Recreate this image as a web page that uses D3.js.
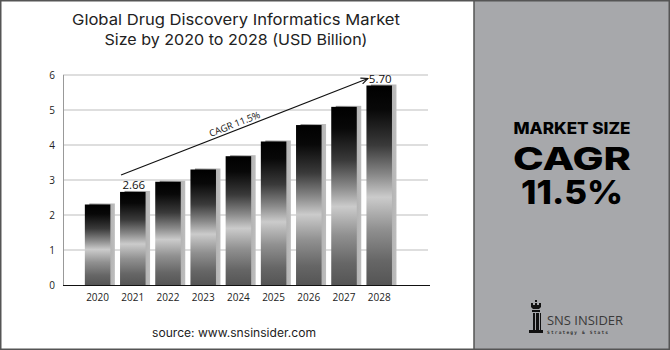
<!DOCTYPE html>
<html>
<head>
<meta charset="utf-8">
<script src="https://cdn.jsdelivr.net/npm/d3@7/dist/d3.min.js"></script>
<style>
    body { margin: 0; background: #fff; }
    text.tick-label { font-family: "Open Sans", sans-serif; font-size: 10px; fill: #222; }
</style>
</head>
<body>
<div id="chart"></div>
<script>
var years = ["2020", "2021", "2022", "2023", "2024", "2025", "2026", "2027", "2028"];
var marketSize = [2.30, 2.66, 2.95, 3.30, 3.68, 4.10, 4.57, 5.09, 5.70];
var yTicks = [0, 1, 2, 3, 4, 5, 6];
var labelled = { "2021": "2.66", "2028": "5.70" };

var width = 670, height = 350;

var svg = d3.select("#chart").append("svg")
    .attr("width", width)
    .attr("height", height);

var defs = svg.append("defs");

var barGrad = defs.append("linearGradient")
    .attr("id", "barGrad")
    .attr("x1", 0).attr("y1", 0).attr("x2", 0).attr("y2", 1);
[[0, "#000"], [0.12, "#080808"], [0.3, "#3a3a3a"], [0.45, "#8a8a8a"], [0.56, "#cbcbcb"],
 [0.72, "#909090"], [0.88, "#666"], [1, "#555"]].forEach(function (s) {
    barGrad.append("stop").attr("offset", s[0]).attr("stop-color", s[1]);
});

var shadeGrad = defs.append("linearGradient")
    .attr("id", "shadeGrad")
    .attr("x1", 0).attr("y1", 0).attr("x2", 1).attr("y2", 0);
[[0, "#8c8c8c"], [0.6, "#a9a9a9"], [1, "#bdbdbd"]].forEach(function (s) {
    shadeGrad.append("stop").attr("offset", s[0]).attr("stop-color", s[1]);
});

// outer frame + right panel
svg.append("rect")
    .attr("x", 0.75).attr("y", 0.75)
    .attr("width", width - 1.5).attr("height", height - 1.5)
    .attr("fill", "#fff")
    .attr("stroke", "#555")
    .attr("stroke-width", 1.5);

svg.append("rect")
    .attr("x", 474).attr("y", 0.75)
    .attr("width", width - 474 - 0.75).attr("height", height - 1.5)
    .attr("fill", "#a7a8ab")
    .attr("stroke", "#555")
    .attr("stroke-width", 1.5);

// title
var title = svg.append("g")
    .style("font-family", "Inter, 'Open Sans', sans-serif")
    .style("font-size", "15px")
    .attr("fill", "#222");
title.append("text")
    .attr("x", 236).attr("y", 25).attr("text-anchor", "middle")
    .attr("textLength", 328).attr("lengthAdjust", "spacingAndGlyphs")
    .text("Global Drug Discovery Informatics Market");
title.append("text")
    .attr("x", 236).attr("y", 45).attr("text-anchor", "middle")
    .attr("textLength", 263).attr("lengthAdjust", "spacingAndGlyphs")
    .text("Size by 2020 to 2028 (USD Billion)");

// scales
var x = d3.scaleBand()
    .domain(years)
    .range([80, 396.8])
    .paddingInner(0.275)
    .paddingOuter(0.1375);

var y = d3.scaleLinear()
    .domain([0, 6])
    .range([285, 75]);

// grid
svg.append("g")
    .selectAll("line")
    .data(yTicks.filter(function (d) { return d > 0; }))
    .enter().append("line")
    .attr("x1", 63).attr("x2", 428)
    .attr("y1", function (d) { return y(d); })
    .attr("y2", function (d) { return y(d); })
    .attr("stroke", "#bdbdbd")
    .attr("stroke-width", 1);

svg.append("line")
    .attr("x1", 63.5).attr("x2", 63.5)
    .attr("y1", y(6)).attr("y2", y(0))
    .attr("stroke", "#999");

// y tick labels
svg.append("g")
    .selectAll("text")
    .data(yTicks)
    .enter().append("text")
    .attr("class", "tick-label")
    .attr("x", 55)
    .attr("y", function (d) { return y(d) + 3.5; })
    .attr("text-anchor", "end")
    .text(function (d) { return d; });

// bars
var bars = svg.append("g")
    .selectAll("g.bar")
    .data(marketSize)
    .enter().append("g")
    .attr("class", "bar");

bars.append("rect")
    .attr("x", function (d, i) { return x(years[i]) + 4.5; })
    .attr("y", function (d) { return y(d) - 1; })
    .attr("width", x.bandwidth())
    .attr("height", function (d) { return y(0) - y(d) + 1; })
    .attr("fill", "url(#shadeGrad)");

bars.append("rect")
    .attr("x", function (d, i) { return x(years[i]); })
    .attr("y", function (d) { return y(d); })
    .attr("width", x.bandwidth())
    .attr("height", function (d) { return y(0) - y(d); })
    .attr("fill", "url(#barGrad)");

// baseline
svg.append("line")
    .attr("x1", 63).attr("x2", 430)
    .attr("y1", y(0) + 0.5).attr("y2", y(0) + 0.5)
    .attr("stroke", "#111")
    .attr("stroke-width", 1.2);

// x tick labels
svg.append("g")
    .selectAll("text")
    .data(years)
    .enter().append("text")
    .attr("class", "tick-label")
    .attr("x", function (d) { return x(d) + x.bandwidth() / 2; })
    .attr("y", 301)
    .attr("text-anchor", "middle")
    .text(function (d) { return d; });

// value labels
svg.append("g")
    .selectAll("text")
    .data(years.filter(function (d) { return labelled[d]; }))
    .enter().append("text")
    .attr("x", function (d) { return x(d) + x.bandwidth() / 2 + 1; })
    .attr("y", function (d) { return y(marketSize[years.indexOf(d)]) - 3; })
    .attr("text-anchor", "middle")
    .style("font-family", "'Open Sans', sans-serif")
    .style("font-size", "11.5px")
    .attr("fill", "#111")
    .text(function (d) { return labelled[d]; });

// CAGR arrow
defs.append("marker")
    .attr("id", "arrow")
    .attr("viewBox", "0 0 10 10")
    .attr("refX", 9).attr("refY", 5)
    .attr("markerWidth", 7).attr("markerHeight", 7)
    .attr("orient", "auto")
    .append("path")
    .attr("d", "M0,1 L9,5 L0,9")
    .attr("fill", "none")
    .attr("stroke", "#111")
    .attr("stroke-width", 1.4);

var ax1 = x("2021") + 1, ay1 = y(3.14),
    ax2 = x("2028") + 1.5, ay2 = y(5.9);
svg.append("line")
    .attr("x1", ax1).attr("y1", ay1)
    .attr("x2", ax2).attr("y2", ay2)
    .attr("stroke", "#111")
    .attr("stroke-width", 1.1)
    .attr("marker-end", "url(#arrow)");

var angle = Math.atan2(ay2 - ay1, ax2 - ax1) * 180 / Math.PI;
var mx = ax1 + (ax2 - ax1) * 0.465, my = ay1 + (ay2 - ay1) * 0.465;
svg.append("text")
    .attr("transform", "translate(" + mx + "," + (my - 3) + ") rotate(" + angle + ")")
    .attr("text-anchor", "middle")
    .style("font-family", "'Open Sans', sans-serif")
    .style("font-size", "9.5px")
    .attr("fill", "#111")
    .text("CAGR 11.5%");

// source
svg.append("text")
    .attr("x", 234).attr("y", 337)
    .attr("text-anchor", "middle")
    .style("font-family", "Inter, 'Open Sans', sans-serif")
    .style("font-size", "11.5px")
    .attr("fill", "#222")
    .attr("textLength", 164).attr("lengthAdjust", "spacingAndGlyphs")
    .text("source: www.snsinsider.com");

// right panel text
var panel = svg.append("g").style("font-family", "Inter, 'Open Sans', sans-serif").attr("fill", "#000");
panel.append("text")
    .attr("x", 572).attr("y", 134)
    .attr("text-anchor", "middle")
    .style("font-size", "16px").style("font-weight", 800)
    .attr("textLength", 117).attr("lengthAdjust", "spacingAndGlyphs")
    .text("MARKET SIZE");
panel.append("text")
    .attr("x", 572).attr("y", 170)
    .attr("text-anchor", "middle")
    .style("font-size", "31px").style("font-weight", 800)
    .attr("textLength", 118).attr("lengthAdjust", "spacingAndGlyphs")
    .text("CAGR");
panel.append("text")
    .attr("x", 572).attr("y", 204)
    .attr("text-anchor", "middle")
    .style("font-size", "33px").style("font-weight", 800)
    .attr("textLength", 102).attr("lengthAdjust", "spacingAndGlyphs")
    .text("11.5%");

// logo
var logo = svg.append("g").attr("transform", "translate(526,300)");
logo.append("path")
    .attr("d", "M9,0 L11,0 L11,2 L9,2 Z M5,3 L7,3 L7,5 L9,5 L9,3 L11,3 L11,5 L13,5 L13,3 L15,3 L15,7 L13,9 L7,9 L5,7 Z " +
        "M6,10 L14,10 L14,12 L6,12 Z M7,13 L9,13 L9,30 L7,30 Z M10,13 L13,13 L13,30 L10,30 Z M14,13 L15,13 L15,30 L14,30 Z " +
        "M3,30 L17,30 L17,33 L3,33 Z")
    .attr("fill", "#111");
logo.append("text")
    .attr("x", 21).attr("y", 25)
    .style("font-family", "'Open Sans', sans-serif")
    .style("font-size", "12px")
    .attr("fill", "#3a3a3a")
    .attr("textLength", 76).attr("lengthAdjust", "spacingAndGlyphs")
    .text("SNS INSIDER");
logo.append("text")
    .attr("x", 21).attr("y", 33.5)
    .style("font-family", "'DejaVu Sans Mono', monospace")
    .style("font-size", "4.5px")
    .style("font-weight", 700)
    .attr("fill", "#333")
    .attr("textLength", 61).attr("lengthAdjust", "spacing")
    .text("Strategy & Stats");
</script>
</body>
</html>
